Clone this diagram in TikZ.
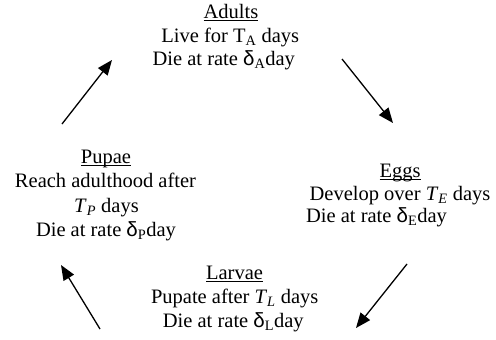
\documentclass[tikz,border=0pt]{standalone}
\usepackage{fontspec}
\setmainfont{Liberation Serif}
\newfontfamily\dfont{Liberation Sans}
\usetikzlibrary{arrows.meta}
\newcommand{\dl}[1]{{\dfont δ}\textsubscript{#1}}
\newcommand{\myul}[1]{\setbox0=\hbox{#1}\rlap{\rule[-2.8pt]{\wd0}{0.9pt}}\box0}
\begin{document}
\begin{tikzpicture}[x=1pt,y=-1pt,
  lbl/.style={anchor=base,inner sep=0pt,font=\fontsize{20.5}{24}\selectfont},
  arr/.style={line width=1.3pt,-{Triangle[length=15pt,width=12pt]}}]
\useasboundingbox (0,0) rectangle (496,340);
% Adults
\node[lbl] (a1) at (231,18.5) {\myul{Adults}};
\node[lbl] (a2) at (230.3,42) {Live for T\textsubscript{A} days};
\node[lbl] (a3) at (223.8,65) {Die at rate \dl{A}day};
% Eggs
\node[lbl] (e1) at (400,177) {\myul{Eggs}};
\node[lbl] (e2) at (400,200) {Develop over \textit{T}\textsubscript{\textit{E}} days};
\node[lbl] (e3) at (376.5,222) {Die at rate \dl{E}day};
% Larvae
\node[lbl] (l1) at (234.5,279) {\myul{Larvae}};
\node[lbl] (l2) at (234.7,303) {Pupate after \textit{T}\textsubscript{\textit{L}} days};
\node[lbl] (l3) at (233.3,327) {Die at rate \dl{L}day};
% Pupae
\node[lbl] (p1) at (106,163) {\myul{Pupae}};
\node[lbl] (p2) at (105.5,187) {Reach adulthood after};
\node[lbl] (p3) at (106.5,212) {\textit{T}\textsubscript{\textit{P}} days};
\node[lbl] (p4) at (106,236) {Die at rate \dl{P}day};
% arrows
\coordinate (c1s) at (62,124);  \coordinate (c1e) at (112,60);
\coordinate (c2s) at (342,59);  \coordinate (c2e) at (393,123);
\coordinate (c3s) at (407,264); \coordinate (c3e) at (356,328);
\coordinate (c4s) at (100,329); \coordinate (c4e) at (61,265);
\draw[arr] (c1s) -- (c1e);
\draw[arr] (c2s) -- (c2e);
\draw[arr] (c3s) -- (c3e);
\draw[arr] (c4s) -- (c4e);
\end{tikzpicture}
\end{document}
